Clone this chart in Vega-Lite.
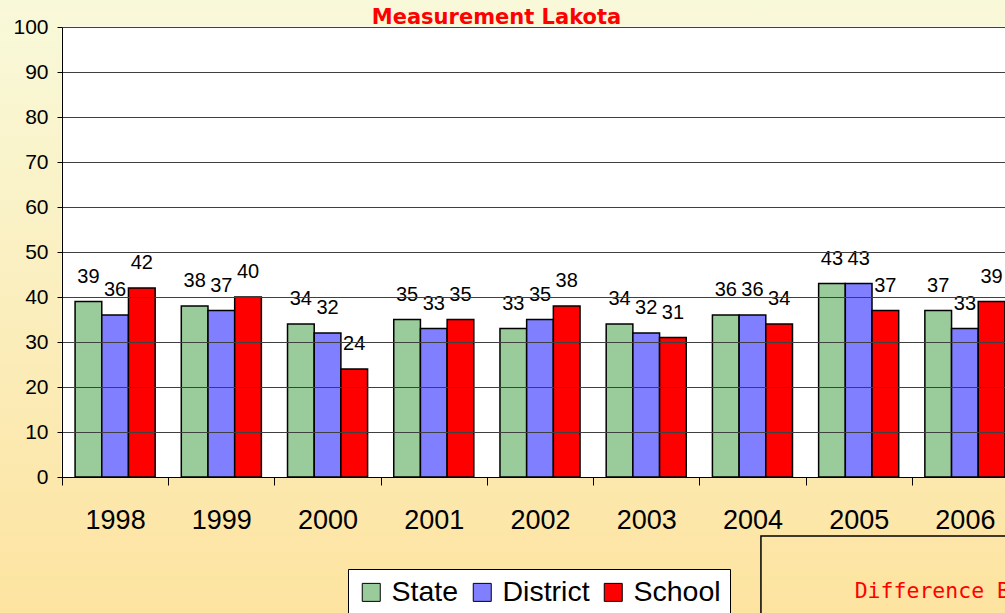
{
  "$schema": "https://vega.github.io/schema/vega-lite/v6.json",
  "width": 1005,
  "height": 613,
  "autosize": {"type": "none"},
  "padding": 0,
  "background": "#fbeec0",
  "title": {"text": "Measurement Lakota", "color": "#ff0000", "font": "DejaVu Sans", "fontWeight": "bold", "fontSize": 21, "anchor": "middle", "frame": "group", "offset": -28, "dx": -6},
  "datasets": {
    "scores": [
      {"year": "1998", "series": "State", "value": 39},
      {"year": "1998", "series": "District", "value": 36},
      {"year": "1998", "series": "School", "value": 42},
      {"year": "1999", "series": "State", "value": 38},
      {"year": "1999", "series": "District", "value": 37},
      {"year": "1999", "series": "School", "value": 40},
      {"year": "2000", "series": "State", "value": 34},
      {"year": "2000", "series": "District", "value": 32},
      {"year": "2000", "series": "School", "value": 24},
      {"year": "2001", "series": "State", "value": 35},
      {"year": "2001", "series": "District", "value": 33},
      {"year": "2001", "series": "School", "value": 35},
      {"year": "2002", "series": "State", "value": 33},
      {"year": "2002", "series": "District", "value": 35},
      {"year": "2002", "series": "School", "value": 38},
      {"year": "2003", "series": "State", "value": 34},
      {"year": "2003", "series": "District", "value": 32},
      {"year": "2003", "series": "School", "value": 31},
      {"year": "2004", "series": "State", "value": 36},
      {"year": "2004", "series": "District", "value": 36},
      {"year": "2004", "series": "School", "value": 34},
      {"year": "2005", "series": "State", "value": 43},
      {"year": "2005", "series": "District", "value": 43},
      {"year": "2005", "series": "School", "value": 37},
      {"year": "2006", "series": "State", "value": 37},
      {"year": "2006", "series": "District", "value": 33},
      {"year": "2006", "series": "School", "value": 39}
    ],
    "years": [
      {"year": "1998"}, {"year": "1999"}, {"year": "2000"}, {"year": "2001"}, {"year": "2002"},
      {"year": "2003"}, {"year": "2004"}, {"year": "2005"}, {"year": "2006"}
    ]
  },
  "layer": [
    {
      "data": {"name": "years"},
      "mark": {"type": "rect", "fill": "#ffffff", "stroke": "#ffffff", "strokeWidth": 1, "zindex": 0},
      "encoding": {
        "x": {"field": "year", "type": "nominal"},
        "y": {"datum": 0, "type": "quantitative"},
        "y2": {"datum": 100}
      }
    },
    {
      "data": {"name": "scores"},
      "mark": {"type": "bar", "stroke": "#000000", "strokeWidth": 1.5, "zindex": 2},
      "encoding": {
        "x": {
          "field": "year", "type": "nominal", "title": null,
          "scale": {"range": [62, 1018], "paddingInner": 0, "paddingOuter": 0},
          "axis": {"orient": "bottom", "offset": -136, "tickBand": "extent", "bandPosition": 0.5, "grid": false, "labelAngle": 0,
                   "labelAlign": "center",
                   "domainColor": "#000000", "domainWidth": 1, "tickColor": "#000000", "tickSize": 8,
                   "labelFont": "Liberation Sans", "labelFontSize": 27, "labelColor": "#000000", "labelPadding": 35}
        },
        "xOffset": {"field": "series", "type": "nominal", "sort": ["State", "District", "School"],
                    "scale": {"paddingInner": 0, "paddingOuter": 0.49}},
        "y": {
          "field": "value", "type": "quantitative", "title": null,
          "scale": {"domain": [0, 100], "range": [477, 27], "nice": false},
          "axis": {"orient": "left", "offset": -62, "zindex": 1, "values": [0, 10, 20, 30, 40, 50, 60, 70, 80, 90, 100],
                   "grid": true, "gridColor": "#404040", "gridWidth": 1, "gridOpacity": 1,
                   "domainColor": "#000000", "domainWidth": 1, "tickColor": "#000000", "tickSize": 5,
                   "labelFont": "Liberation Sans", "labelFontSize": 21, "labelColor": "#000000", "labelPadding": 9}
        },
        "color": {
          "field": "series", "type": "nominal",
          "scale": {"domain": ["State", "District", "School"], "range": ["#9acb9a", "#7f7fff", "#ff0000"]},
          "legend": {"orient": "none", "legendX": 348, "legendY": 569, "direction": "horizontal", "title": null,
                     "fillColor": "#ffffff", "strokeColor": "#000000", "padding": 9,
                     "symbolType": "square", "symbolSize": 324, "symbolStrokeColor": "#000000", "symbolStrokeWidth": 1,
                     "labelFont": "Liberation Sans", "labelFontSize": 28.5, "labelColor": "#000000",
                     "labelOffset": 6, "columnPadding": 9}
        }
      }
    },
    {
      "data": {"name": "scores"},
      "mark": {"type": "text", "font": "Liberation Sans", "fontSize": 20, "color": "#000000", "baseline": "alphabetic", "dy": -19, "zindex": 2},
      "encoding": {
        "x": {"field": "year", "type": "nominal"},
        "xOffset": {"field": "series", "type": "nominal", "sort": ["State", "District", "School"]},
        "y": {"field": "value", "type": "quantitative"},
        "text": {"field": "value", "type": "quantitative"}
      }
    },
    {
      "data": {"name": "years"},
      "transform": [{"filter": "datum.year == '2004'"}],
      "mark": {"type": "rect", "fill": null, "stroke": "#000000", "strokeWidth": 1.5},
      "encoding": {
        "x": {"field": "year", "type": "nominal", "bandPosition": 0.58},
        "x2": {"field": "year", "bandPosition": 3.5},
        "y": {"datum": -13.1, "type": "quantitative"},
        "y2": {"datum": -40}
      }
    },
    {
      "data": {"name": "years"},
      "transform": [{"filter": "datum.year == '2005'"}],
      "mark": {"type": "text", "font": "DejaVu Sans Mono", "fontSize": 21.5, "color": "#ff0000", "align": "left", "baseline": "middle", "dx": -4},
      "encoding": {
        "x": {"field": "year", "type": "nominal"},
        "y": {"datum": -25.5, "type": "quantitative"},
        "text": {"value": "Difference Between"}
      }
    }
  ],
  "config": {
    "view": {"stroke": null, "fill": {"gradient": "linear", "x1": 0, "y1": 0, "x2": 0, "y2": 1,
      "stops": [{"offset": 0, "color": "#f8f9da"}, {"offset": 1, "color": "#fde3a0"}]}}
  }
}
